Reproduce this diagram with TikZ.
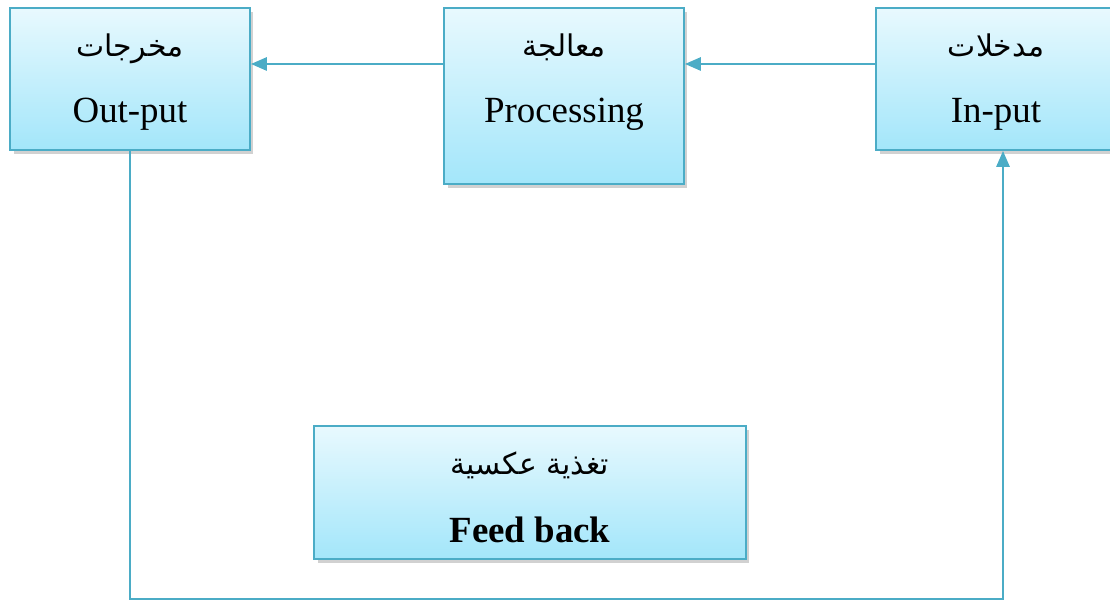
\documentclass[tikz,border=0pt]{standalone}
\usepackage{fontspec}
\setmainfont{Liberation Serif}
\newfontfamily\arabicfont[Script=Arabic]{DejaVu Sans}
\TeXXeTstate=1
\usetikzlibrary{arrows.meta,shadows}
\definecolor{linkblue}{RGB}{75,172,198}
\definecolor{boxtop}{RGB}{232,249,254}
\definecolor{boxbot}{RGB}{163,230,250}

\begin{document}
\begin{tikzpicture}[
    x=0.02cm, y=0.02cm,
    box/.style={draw=linkblue, line width=1.1pt, top color=boxtop, bottom color=boxbot,
      minimum width=4.8cm, drop shadow={shadow xshift=2pt, shadow yshift=-2.5pt, opacity=0.3, fill=black!60}},
    link/.style={draw=linkblue, line width=1.1pt},
    tip/.style={-{Triangle[length=9pt,width=7.5pt]}},
    en/.style={anchor=base, font=\fontsize{21}{25}\selectfont},
    enb/.style={anchor=base, font=\fontsize{21}{25}\selectfont\bfseries},
    ar/.style={anchor=base, font=\arabicfont\fontsize{17}{20}\selectfont}
  ]
  \useasboundingbox (0,0) rectangle (1110,601);

  % the three stages along the top
  \node[box, minimum height=2.84cm] (out) at (130,522) {};
  \node[box, minimum height=3.52cm] (proc) at (564,505) {};
  \node[box, minimum height=2.84cm] (inp) at (996,522) {};
  % feedback box sits inside the loop
  \node[box, minimum width=8.64cm, minimum height=2.66cm] (fb) at (530,108.5) {};

  % labels, arabic over english
  \node[ar] (outar) at (130,544) {\beginR مخرجات\endR};
  \node[en] (outen) at (130,478) {Out-put};
  \node[ar] (procar) at (564,544) {\beginR معالجة\endR};
  \node[en] (procen) at (564,478) {Processing};
  \node[ar] (inpar) at (996,544) {\beginR مدخلات\endR};
  \node[en] (inpen) at (996,478) {In-put};
  \node[ar] (fbar) at (530,126) {\beginR تغذية عكسية\endR};
  \node[enb] (fben) at (530,58) {Feed back};

  % flow right to left
  \coordinate (row) at (0,537);
  \draw[link,tip] (inp.west |- row) -- (proc.east |- row);
  \draw[link,tip] (proc.west |- row) -- (out.east |- row);

  % loop back under everything
  \coordinate (bl) at (130,2);
  \coordinate (br) at (1003,2);
  \draw[link,tip] (out.south) -- (bl) -- (br) -- (br |- inp.south);
\end{tikzpicture}
\end{document}
